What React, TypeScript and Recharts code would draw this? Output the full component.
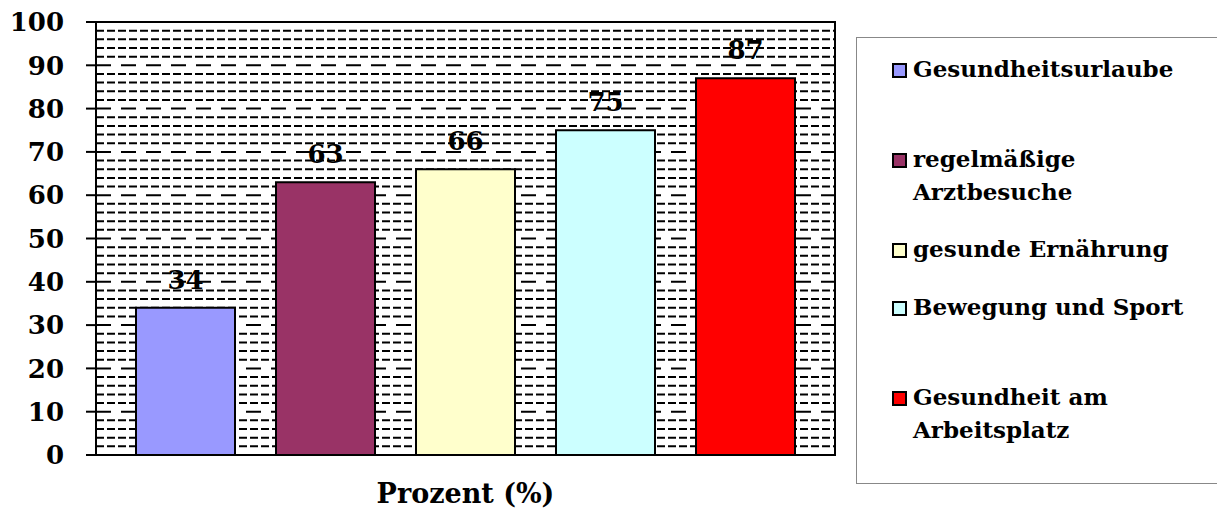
import React from 'react';
import {
  BarChart,
  Bar,
  XAxis,
  YAxis,
  CartesianGrid,
  LabelList,
  ReferenceArea,
} from 'recharts';

const categories = ['Prozent (%)'];
const seriesNames = [
  'Gesundheitsurlaube',
  'regelmäßige Arztbesuche',
  'gesunde Ernährung',
  'Bewegung und Sport',
  'Gesundheit am Arbeitsplatz',
];
const seriesValues = [34, 63, 66, 75, 87];
const seriesColors = ['#9999FF', '#993366', '#FFFFCC', '#CCFFFF', '#FF0000'];
const yTicks = [0, 10, 20, 30, 40, 50, 60, 70, 80, 90, 100];
const majorGrid = [10, 20, 30, 40, 50, 60, 70, 80, 90];
const minorGrid = Array.from({ length: 49 }, (_, i) => (i + 1) * 2).filter((v) => v % 10 !== 0);

const FONT = '"DejaVu Serif", serif';

const data = categories.map((name) => {
  const row: Record<string, string | number> = { name };
  seriesNames.forEach((s, i) => {
    row[`s${i}`] = seriesValues[i];
  });
  return row;
});

// legend rows sit unevenly in the original, keep its spacing
const legendTops = [14, 104, 194, 252, 342];

function ChartLegend() {
  return (
    <div
      style={{
        position: 'absolute',
        left: 856,
        top: 37,
        width: 380,
        height: 447,
        border: '1px solid #888',
        background: '#fff',
        boxSizing: 'border-box',
        fontFamily: FONT,
        fontWeight: 'bold',
        fontSize: 23,
        color: '#000',
      }}
    >
      {seriesNames.map((name, i) => (
        <div
          key={name}
          style={{ position: 'absolute', left: 35, top: legendTops[i], display: 'flex', alignItems: 'flex-start' }}
        >
          <span
            style={{
              width: 11,
              height: 11,
              marginTop: 11,
              marginRight: 6,
              background: seriesColors[i],
              border: '2px solid #000',
              flex: 'none',
            }}
          />
          <span style={{ width: 285, lineHeight: '33px' }}>{name}</span>
        </div>
      ))}
    </div>
  );
}

export default function App() {
  return (
    <div style={{ position: 'absolute', left: 0, top: 0, width: 1217, height: 511, background: '#fff', overflow: 'hidden' }}>
      <BarChart
        width={1217}
        height={511}
        data={data}
        margin={{ top: 22, right: 382, left: 0, bottom: 0 }}
        barSize={99}
        barGap={41}
      >
        <CartesianGrid
          vertical={false}
          horizontalValues={minorGrid}
          stroke="#000"
          strokeWidth={2}
          strokeDasharray="8 3"
        />
        <CartesianGrid
          vertical={false}
          horizontalValues={majorGrid}
          stroke="#000"
          strokeWidth={2}
          strokeDasharray="15 10"
        />
        <XAxis
          dataKey="name"
          height={56}
          axisLine={{ stroke: '#000', strokeWidth: 2 }}
          tickLine={false}
          tickMargin={23}
          tick={{ fill: '#000', fontFamily: FONT, fontWeight: 'bold', fontSize: 27 }}
        />
        <YAxis
          domain={[0, 100]}
          ticks={yTicks}
          width={96}
          interval={0}
          axisLine={{ stroke: '#000', strokeWidth: 2 }}
          tickLine={{ stroke: '#000', strokeWidth: 2 }}
          tickSize={10}
          tickMargin={22}
          tick={{ fill: '#000', fontFamily: FONT, fontWeight: 'bold', fontSize: 26 }}
        />
        <ReferenceArea y1={0} y2={100} fill="none" fillOpacity={0} stroke="#000" strokeWidth={2} />
        {seriesNames.map((name, i) => (
          <Bar
            key={name}
            dataKey={`s${i}`}
            name={name}
            fill={seriesColors[i]}
            stroke="#000"
            strokeWidth={2}
            isAnimationActive={false}
          >
            <LabelList
              dataKey={`s${i}`}
              position="top"
              offset={19}
              fill="#000"
              style={{ fontFamily: FONT, fontWeight: 'bold', fontSize: 26 }}
            />
          </Bar>
        ))}
      </BarChart>
      <ChartLegend />
    </div>
  );
}
